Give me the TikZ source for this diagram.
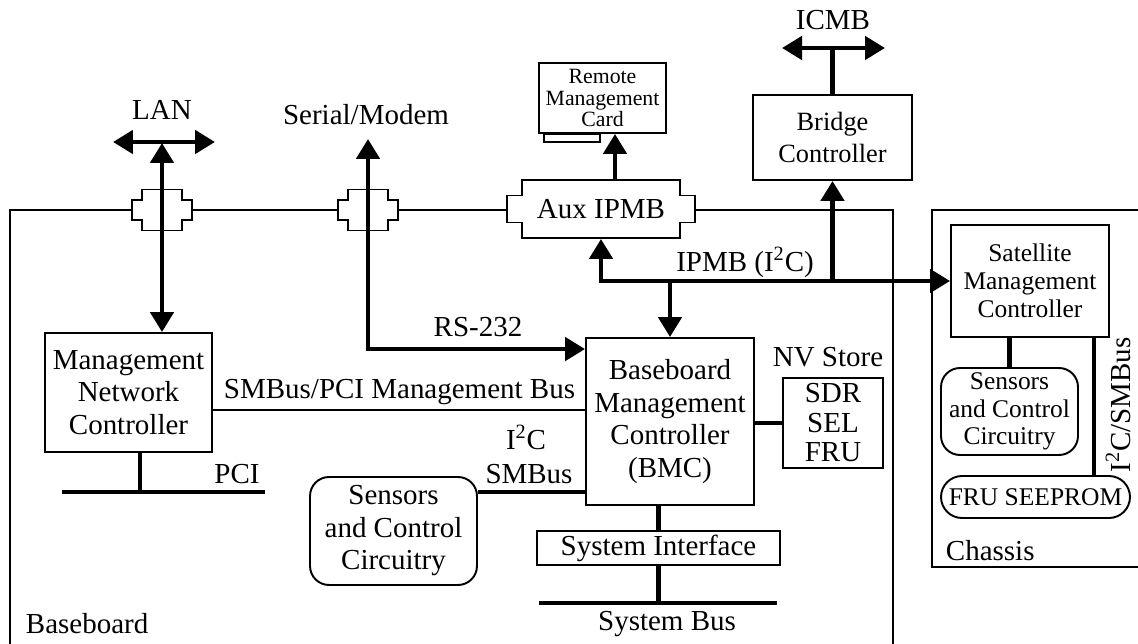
\documentclass[tikz,border=0pt]{standalone}
\usepackage{fontspec}
\setmainfont{Liberation Serif}
\usetikzlibrary{calc, arrows.meta}

\newcommand\cardfont{\fontsize{12.4}{12}\selectfont}
\newcommand\bridgefont{\fontsize{15}{18.5}\selectfont}
\newcommand\chassisfont{\fontsize{14.5}{15.8}\selectfont}

\tikzset{
  pics/plug/.style n args={4}{code={
    \draw[fill=white] (-#1,-#3) -- (#1,-#3) -- (#1,-#4) -- (#2,-#4) -- (#2,#4) -- (#1,#4)
      -- (#1,#3) -- (-#1,#3) -- (-#1,#4) -- (-#2,#4) -- (-#2,-#4) -- (-#1,-#4) -- cycle;
  }},
  block/.style={draw, align=center, inner sep=0pt},
  soft/.style={block, rounded corners=0.38cm},
  bus/.style={line width=2.7pt},
  lbl/.style={inner sep=0pt, anchor=base},
}

\begin{document}
\begin{tikzpicture}[x=0.02cm, y=-0.02cm, line width=1.1pt,
    >={Triangle[length=0.4cm,width=0.46cm]},
    font=\fontsize{16.5}{18.5}\selectfont]
    \useasboundingbox (0,0) rectangle (1138,644);

    % board outlines
    \draw (10,670) |- (893,210) -- (893,670);
    \draw (1150,210) -| (932,567) -- (1150,567);

    % connectors on the board edge
    \pic at (162,210) {plug={20}{30}{20.5}{10}};
    \pic at (368,210) {plug={20}{30}{20.5}{10}};
    \pic at (601,209) {plug={79}{94}{29}{13.5}};

    \node[inner sep=0pt, minimum width=3.16cm, minimum height=1.16cm] (aux) at (601,209) {Aux IPMB};
    \node[block, minimum width=3.34cm, minimum height=2.38cm] (mnc) at (128.5,392.5) {Management\\Network\\Controller};
    \node[block, minimum width=3.36cm, minimum height=3.34cm] (bmc) at (670,421.5) {Baseboard\\Management\\Controller\\(BMC)};
    \node[block, minimum width=2cm, minimum height=1.8cm, font=\fontsize{16.5}{16.8}\selectfont] (nv) at (833,423) {SDR\\SEL\\FRU};
    \node[soft, minimum width=3.34cm, minimum height=2.16cm] (sens) at (393.5,531) {Sensors\\and Control\\Circuitry};
    \node[block, minimum width=4.86cm, minimum height=0.68cm] (si) at (658.5,548) {System Interface};
    \node[block, minimum width=2.54cm, minimum height=1.4cm, font=\cardfont] (rmc) at (602.5,98) {Remote\\Management\\Card};
    \node[block, minimum width=3.18cm, minimum height=1.7cm, font=\bridgefont] (bridge) at (832.5,137.5) {Bridge\\Controller};
    \node[block, minimum width=3.16cm, minimum height=2.24cm, font=\chassisfont] (sat) at (1030,281) {Satellite\\Management\\Controller};
    \node[soft, minimum width=2.74cm, minimum height=1.74cm, font=\chassisfont] (csens) at (1009.5,411.5) {Sensors\\and Control\\Circuitry};
    \node[soft, rounded corners=0.42cm, minimum width=3.78cm, minimum height=0.84cm, font=\chassisfont] (fru) at (1035.5,497) {FRU SEEPROM};

    % card tab
    \draw ($(rmc.south west)+(6,0)$) rectangle ($(rmc.south west)+(62,8)$);

    \coordinate (lanL) at (113,142);
    \coordinate (lanR) at (215,142);
    \coordinate (lanJ) at (162,143);
    \coordinate (serJ) at (368,139);
    \coordinate (icmbL) at (782,48);
    \coordinate (icmbR) at (885,48);
    \coordinate (pciJ) at (140,492);
    \coordinate (pciL) at (62,492);
    \coordinate (pciR) at (265,492);
    \coordinate (sysL) at (539,603);
    \coordinate (sysR) at (777,603);
    \coordinate (rsE) at ($(bmc.north west)+(0,12)$);
    \coordinate (smbA) at ($(mnc.east)+(0,17.5)$);
    \coordinate (sensE) at ($(sens.north east)+(0,16)$);
    \coordinate (auxT) at ($(aux.north)+(14,0)$);
    \coordinate (satJ) at ($(sat.south east)+(-16,0)$);

    % buses
    \draw[bus,<->] (lanL) -- (lanR);
    \draw[bus,<->] (lanJ) -- (lanJ |- mnc.north);
    \draw[bus,<->] (serJ) |- (rsE);
    \draw (smbA) -- (smbA -| bmc.west);
    \draw[bus] (mnc.south -| pciJ) -- (pciJ);
    \draw[bus] (pciL) -- (pciR);
    \draw[bus] (sensE) -- (sensE -| bmc.west);
    \draw[bus] (bmc.east |- nv.west) -- (nv.west);
    \draw[bus] (si.north) -- (si.north |- bmc.south);
    \draw[bus] (si.south) -- (si.south |- sysL);
    \draw[bus] (sysL) -- (sysR);
    \draw[bus,<->] (aux.south) |- (sat.west);
    \draw[bus,->] (bmc.north |- sat.west) -- (bmc.north);
    \draw[bus,->] (bridge.south |- sat.west) -- (bridge.south);
    \draw[bus,->] (auxT) -- (auxT |- rmc.south);
    \draw[bus] (bridge.north) -- (bridge.north |- icmbL);
    \draw[bus,<->] (icmbL) -- (icmbR);
    \draw[bus] (sat.south -| csens.north) -- (csens.north);
    \draw[bus] (satJ) -- (satJ |- fru.north);

    % labels
    \node[lbl] (lanlbl) at (162,120) {LAN};
    \node[lbl] (serlbl) at (366,125) {Serial/Modem};
    \node[lbl] (icmblbl) at (833,30) {ICMB};
    \node[lbl] (ipmblbl) at (745,272) {IPMB (I\textsuperscript{2}C)};
    \node[lbl] (rslbl) at (478,337) {RS-232};
    \node[lbl] (smblbl) at (399.5,399) {SMBus/PCI Management Bus};
    \node[lbl] (i2clbl) at (526,450) {I\textsuperscript{2}C};
    \node[lbl] (smbuslbl) at (529,483) {SMBus};
    \node[lbl] (pcilbl) at (237,483) {PCI};
    \node[lbl] (nvlbl) at (828,367) {NV Store};
    \node[lbl] (sysbuslbl) at (667,630) {System Bus};
    \node[lbl, anchor=base west] (boardlbl) at (25,633) {Baseboard};
    \node[lbl, anchor=base west] (chassislbl) at (945,560) {Chassis};
    \node[lbl, rotate=90] (satbuslbl) at (1130,405) {I\textsuperscript{2}C/SMBus};
\end{tikzpicture}
\end{document}
